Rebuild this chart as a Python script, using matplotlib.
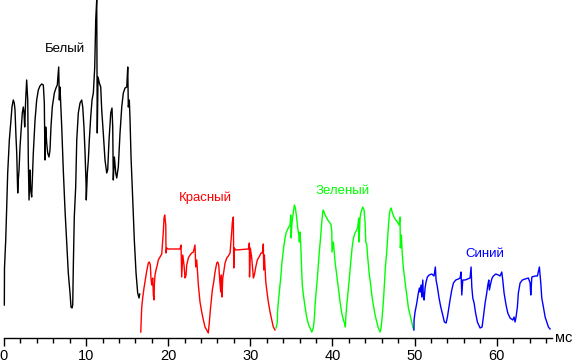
import matplotlib

matplotlib.use("Agg")
import matplotlib.pyplot as plt
from matplotlib.ticker import MultipleLocator

plt.rcParams["font.family"] = ["Liberation Sans", "DejaVu Sans"]

# time, ms / brightness, arbitrary units (0 = axis)
white_t = [0.04, 0.06, 0.21, 0.33, 0.45, 0.65, 0.85, 0.97, 1.13, 1.25, 1.34, 1.46, 1.55, 1.67,
           1.74, 1.83, 1.95, 2.11, 2.23, 2.35, 2.44, 2.52, 2.64, 2.76, 2.89, 2.96, 3.05, 3.17,
           3.25, 3.37, 3.45, 3.57, 3.78, 3.98, 4.18, 4.38, 4.59, 4.79, 4.91, 4.99, 5.08, 5.20,
           5.32, 5.48, 5.60, 5.72, 5.88, 6.13, 6.33, 6.49, 6.66, 6.74, 6.82, 7.03, 7.22, 7.43,
           7.64, 7.83, 8.04, 8.16, 8.28, 8.37, 8.44, 8.56, 8.73, 8.86, 9.05, 9.26, 9.46, 9.59,
           9.74, 9.87, 9.99, 10.02, 10.15, 10.27, 10.39, 10.56, 10.72, 10.88, 11.05, 11.17,
           11.29, 11.36, 11.45, 11.61, 11.78, 11.90, 12.09, 12.30, 12.51, 12.63, 12.79, 13.00,
           13.15, 13.24, 13.31, 13.44, 13.61, 13.73, 13.92, 14.13, 14.34, 14.53, 14.74, 14.95,
           15.07, 15.14, 15.26, 15.35, 15.47, 15.68, 15.87, 16.08, 16.28, 16.44, 16.53]
white_v = [33, 70, 98, 131, 165, 198, 218, 231, 238, 235, 228, 201, 185, 145,
           158, 168, 191, 211, 225, 231, 225, 211, 238, 258, 238, 178, 138, 168,
           148, 141, 158, 185, 218, 238, 248, 252, 254, 253, 235, 178, 211, 195,
           185, 181, 188, 211, 231, 245, 250, 253, 271, 238, 251, 211, 168, 128,
           95, 65, 45, 31, 30, 33, 71, 121, 151, 198, 225, 235, 238, 231,
           211, 185, 155, 138, 165, 178, 198, 221, 238, 245, 271, 318,
           338, 205, 261, 255, 251, 228, 205, 178, 165, 168, 198, 225,
           230, 211, 158, 181, 165, 160, 171, 205, 231, 245, 250, 251,
           271, 231, 238, 218, 181, 138, 98, 65, 45, 40, 44]

red_t = [16.66, 16.71, 16.77, 16.89, 17.05, 17.17, 17.30, 17.45, 17.58, 17.70, 17.82, 17.90,
         17.99, 18.11, 18.19, 18.27, 18.31, 18.39, 18.51, 18.67, 18.79, 19.00, 19.21, 19.40,
         19.49, 19.57, 19.70, 19.73, 19.82, 20.01, 21.44, 21.56, 21.64, 21.77, 21.92, 22.05,
         22.17, 22.25, 22.45, 22.66, 22.86, 23.06, 23.26, 23.35, 23.47, 23.67, 23.87, 24.08,
         24.28, 24.48, 24.69, 24.88, 25.01, 25.13, 25.25, 25.37, 25.54, 25.70, 25.91, 26.03,
         26.15, 26.27, 26.39, 26.47, 26.55, 26.64, 26.76, 26.92, 27.13, 27.32, 27.53, 27.73,
         27.81, 27.93, 27.98, 28.05, 28.22, 29.76, 29.88, 29.90, 30.00, 30.17, 30.37, 30.49,
         30.66, 30.85, 31.06, 31.30, 31.46, 31.58, 31.63, 31.71, 31.88, 32.03, 32.19, 32.40,
         32.61, 32.80, 33.01]
red_v = [6, 18, 30, 40, 50, 56, 63, 70, 75, 76, 73, 60,
         53, 60, 43, 38, 53, 63, 68, 73, 78, 81, 84, 106,
         120, 123, 113, 85, 90, 89, 89, 93, 61, 83, 73, 60,
         63, 73, 80, 83, 85, 86, 93, 71, 78, 53, 36, 26,
         18, 11, 8, 5, 16, 28, 38, 48, 56, 66, 75, 76,
         73, 58, 46, 63, 41, 60, 66, 75, 80, 82, 85, 106,
         116, 121, 70, 90, 88, 89, 95, 61, 90, 80, 60, 63,
         71, 78, 81, 85, 85, 94, 68, 83, 56, 46, 36, 26,
         18, 11, 8]

green_t = [33.13, 33.29, 33.31, 33.41, 33.53, 33.70, 33.82, 33.95, 34.10, 34.23, 34.35, 34.51,
           34.68, 34.84, 34.92, 34.96, 35.08, 35.24, 35.36, 35.48, 35.60, 35.77, 35.90, 35.97,
           36.05, 36.14, 36.26, 36.33, 36.46, 36.63, 36.78, 36.94, 37.11, 37.27, 37.48, 37.67,
           37.80, 37.88, 38.00, 38.16, 38.28, 38.40, 38.58, 38.70, 38.82, 38.89, 39.10, 39.31,
           39.50, 39.71, 39.83, 39.92, 39.95, 40.11, 40.32, 40.52, 40.72, 40.93, 41.13, 41.33,
           41.54, 41.57, 41.62, 41.74, 41.90, 42.06, 42.23, 42.39, 42.55, 42.75, 42.96, 43.08,
           43.20, 43.24, 43.36, 43.48, 43.69, 43.85, 43.97, 44.06, 44.18, 44.30, 44.49, 44.66,
           44.79, 44.98, 45.19, 45.40, 45.59, 45.80, 45.92, 46.04, 46.20, 46.32, 46.44, 46.61,
           46.74, 46.89, 47.02, 47.14, 47.30, 47.50, 47.71, 47.91, 48.11, 48.23, 48.27, 48.39,
           48.51, 48.64, 48.84, 49.05, 49.25, 49.45, 49.66, 49.78, 49.88]
green_v = [10, 16, 26, 36, 46, 60, 73, 83, 93, 100, 105, 108,
           111, 113, 123, 100, 116, 126, 133, 130, 123, 110, 103, 96,
           106, 93, 66, 53, 43, 33, 25, 18, 13, 10, 6, 10,
           20, 33, 45, 60, 73, 86, 103, 116, 126, 128, 123, 120,
           117, 115, 113, 106, 86, 96, 76, 63, 50, 36, 25, 18,
           13, 11, 20, 33, 46, 60, 76, 90, 100, 105, 108, 111,
           120, 96, 120, 126, 131, 128, 116, 96, 93, 80, 63, 53,
           43, 33, 23, 16, 10, 6, 10, 20, 36, 53, 70, 86,
           103, 120, 128, 130, 125, 121, 118, 116, 113, 121, 90, 103,
           83, 70, 56, 43, 30, 23, 16, 11, 9]

blue_t = [49.92, 49.94, 50.06, 50.27, 50.46, 50.59, 50.67, 50.79, 50.88, 51.00, 51.07, 51.16,
          51.28, 51.40, 51.56, 51.77, 52.09, 52.37, 52.53, 52.62, 52.78, 52.98, 53.19, 53.43,
          53.63, 53.84, 54.00, 54.17, 54.32, 54.53, 54.73, 55.02, 55.33, 55.54, 55.66, 55.75,
          55.87, 56.15, 56.76, 56.88, 56.97, 57.09, 57.25, 57.41, 57.65, 57.98, 58.22, 58.38,
          58.59, 58.79, 58.92, 59.04, 59.11, 59.28, 59.44, 59.60, 59.89, 60.21, 60.41, 60.62,
          60.74, 60.90, 61.14, 61.35, 61.63, 61.96, 62.12, 62.24, 62.36, 62.52, 62.64, 62.85,
          63.13, 63.46, 63.86, 64.07, 64.15, 64.28, 64.68, 64.96, 65.20, 65.37, 65.49, 65.69,
          65.90, 66.10, 66.30, 66.50]
blue_v = [8, 18, 26, 35, 45, 50, 46, 53, 41, 58, 41, 38,
          50, 56, 61, 63, 64, 62, 71, 58, 51, 40, 31, 23,
          16, 15, 21, 30, 38, 48, 55, 58, 59, 60, 66, 43,
          58, 58, 60, 71, 51, 40, 35, 26, 16, 10, 11, 21,
          35, 45, 53, 58, 48, 55, 60, 62, 64, 63, 62, 66,
          58, 45, 33, 25, 20, 18, 21, 16, 21, 31, 45, 55,
          58, 59, 60, 55, 43, 61, 62, 62, 71, 55, 40, 31,
          21, 16, 11, 9]

series = [
    ("Белый", white_t, white_v, "black", (7.45, 289)),
    ("Красный", red_t, red_v, "#ff0000", (24.5, 140)),
    ("Зеленый", green_t, green_v, "#00ff00", (41.2, 147)),
    ("Синий", blue_t, blue_v, "#0000ff", (58.5, 84)),
]

W, H = 572, 364
fig = plt.figure(figsize=(W / 100, H / 100), dpi=100)
ax = fig.add_axes([4 / W, 26 / H, (551.7 - 4) / W, 338 / H])

for name, t, v, color, (lx, ly) in series:
    ax.plot(t, v, color=color, lw=1.0, clip_on=False)
    ax.text(lx, ly, name, color=color, fontsize=9.5, ha="center", va="center")

ax.set_xlim(0, 66.7)
ax.set_ylim(0, 338)
for side in ("left", "right", "top"):
    ax.spines[side].set_visible(False)
ax.spines["bottom"].set_linewidth(1.0)
ax.set_yticks([])
ax.xaxis.set_major_locator(MultipleLocator(10))
ax.xaxis.set_minor_locator(MultipleLocator(2))
ax.tick_params(axis="x", which="major", length=6, width=1.0, labelsize=10.5, pad=2)
ax.tick_params(axis="x", which="minor", length=3.5, width=1.0)
fig.text(564 / W, 1 - 338 / H, "мс", fontsize=10.5, ha="center", va="center")

fig.savefig("out.png", dpi=100)
